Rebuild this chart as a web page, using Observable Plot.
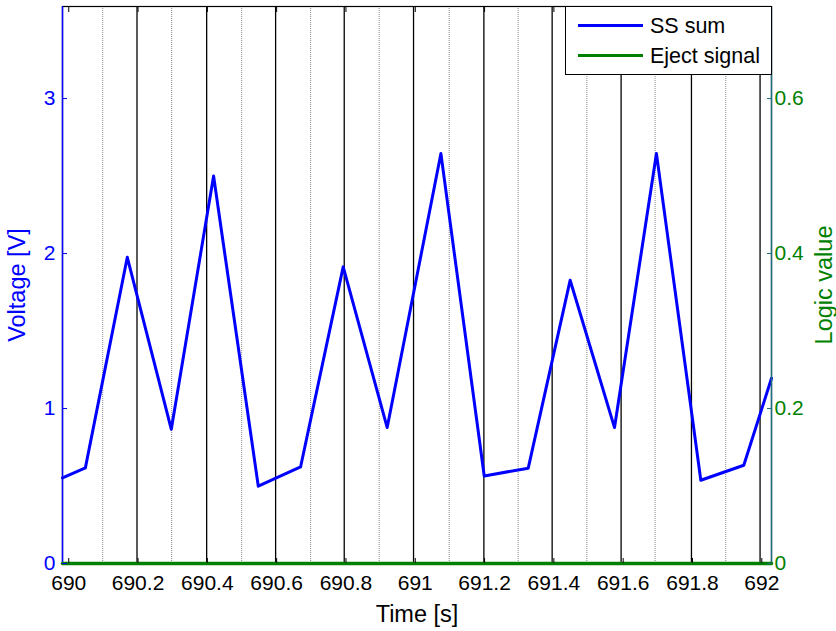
<!DOCTYPE html>
<html><head><meta charset="utf-8">
<script src="https://cdn.jsdelivr.net/npm/d3@7"></script>
<script src="https://cdn.jsdelivr.net/npm/@observablehq/plot@0.6"></script>
<style>
html,body{margin:0;padding:0;background:#fff;}
#wrap{position:relative;width:836px;height:631px;font-family:"Liberation Sans",Arial,sans-serif;}
#legend{position:absolute;left:565px;top:6px;width:207px;height:69px;border:1.5px solid #000;background:#fff;box-sizing:border-box;}
.lrow{position:absolute;left:0;height:24px;width:100%;}
.swatch{position:absolute;left:12px;top:10px;width:65px;height:3px;}
.ltext{position:absolute;left:84px;top:0;font-size:21.5px;line-height:24px;color:#000;white-space:nowrap;}
.plot-d6a7b5 text, svg text{}
</style></head><body><div id="wrap"></div>
<script>
// ---- data ----
const timeS = [689.982, 690.048, 690.169, 690.296, 690.418, 690.547, 690.669, 690.792, 690.919, 691.074, 691.199, 691.326, 691.447, 691.575, 691.696, 691.824, 691.948, 692.028];
const ssSum = [0.552, 0.617, 1.976, 0.866, 2.50, 0.499, 0.623, 1.914, 0.877, 2.645, 0.565, 0.615, 1.828, 0.877, 2.645, 0.537, 0.634, 1.195];
const ejectTimes = [689.982, 692.028];
const ejectSignal = [0, 0];
const blackMarkers = [690.197, 690.398, 690.597, 690.795, 690.995, 691.198, 691.395, 691.594, 691.797, 691.995];
const grayMarkers = [690.098, 690.297, 690.499, 690.698, 690.896, 691.098, 691.297, 691.495, 691.692, 691.896];
const xTicks = [690, 690.2, 690.4, 690.6, 690.8, 691, 691.2, 691.4, 691.6, 691.8, 692];
const xTickLabels = ["690", "690.2", "690.4", "690.6", "690.8", "691", "691.2", "691.4", "691.6", "691.8", "692"];
const leftTicks = [0, 1, 2, 3];
const leftTickLabels = ["0", "1", "2", "3"];
const rightTicks = [0, 0.2, 0.4, 0.6];
const rightTickLabels = ["0", "0.2", "0.4", "0.6"];
const seriesNames = ["SS sum", "Eject signal"];
const xDomain = [689.982, 692.028];
const yDomain = [0, 3.594];
const rightDomainMax = 0.7188;

const ratio = yDomain[1] / rightDomainMax;
const ss = timeS.map((t, i) => ({t, v: ssSum[i]}));
const ej = ejectTimes.map((t, i) => ({t, v: ejectSignal[i]}));
const BLUE = "#0000ff", GREEN = "#008000", TEAL = "#216e82";
const labelFont = {fontSize: 23.5};

const chart = Plot.plot({
  width: 836, height: 631,
  marginLeft: 62, marginRight: 65, marginTop: 6, marginBottom: 68,
  x: {domain: xDomain},
  y: {domain: yDomain},
  style: {fontFamily: '"Liberation Sans", Arial, sans-serif', fontSize: "21px", background: "#fff", color: "#000", overflow: "visible"},
  marks: [
    Plot.ruleX(grayMarkers, {stroke: "#8a8a8a", strokeWidth: 1, strokeDasharray: "1,1"}),
    Plot.ruleX(blackMarkers, {stroke: "#000", strokeWidth: 1.3}),
    Plot.line(ss, {x: "t", y: "v", stroke: BLUE, strokeWidth: 3}),
    Plot.frame({stroke: "#000", strokeWidth: 1.2}),
    Plot.ruleX([xDomain[0]], {stroke: BLUE, strokeWidth: 1.5}),
    Plot.ruleX([xDomain[1]], {stroke: TEAL, strokeWidth: 1.5}),
    Plot.line(ej, {x: "t", y: d => d.v * ratio, stroke: GREEN, strokeWidth: 3.5}),
    Plot.axisX(xTicks, {anchor: "bottom", tickSize: -5, tickPadding: 17,
      tickFormat: d => xTickLabels[xTicks.indexOf(d)], label: null, color: "#000"}),
    Plot.axisX({anchor: "bottom", ticks: [], label: "Time [s]", labelAnchor: "center", labelOffset: 58, labelArrow: "none", color: "#000", ...labelFont}),
    Plot.axisX(xTicks, {anchor: "top", tickSize: -5, tickFormat: () => "", label: null, color: "#000"}),
    Plot.axisY(leftTicks, {anchor: "left", tickSize: -5, tickPadding: 12,
      tickFormat: d => leftTickLabels[leftTicks.indexOf(d)], label: null, color: BLUE}),
    Plot.axisY({anchor: "left", ticks: [], label: "Voltage [V]", labelAnchor: "center", labelOffset: 54, labelArrow: "none", color: BLUE, ...labelFont}),
    Plot.axisY(rightTicks.map(r => r * ratio), {anchor: "right", tickSize: -5, tickPadding: 8,
      tickFormat: d => rightTickLabels[rightTicks.findIndex(r => Math.abs(r * ratio - d) < 1e-9)],
      label: null, stroke: TEAL, fill: GREEN}),
    Plot.axisY({anchor: "right", ticks: [], label: "Logic value", labelAnchor: "center", labelOffset: 60, labelArrow: "none", color: GREEN, ...labelFont})
  ]
});

const wrap = document.getElementById("wrap");
wrap.appendChild(chart);
const legend = document.createElement("div");
legend.id = "legend";
const colors = [BLUE, GREEN];
seriesNames.forEach((name, i) => {
  const row = document.createElement("div");
  row.className = "lrow";
  row.style.top = (7 + i * 30) + "px";
  const sw = document.createElement("div");
  sw.className = "swatch";
  sw.style.background = colors[i];
  const tx = document.createElement("div");
  tx.className = "ltext";
  tx.textContent = name;
  row.appendChild(sw); row.appendChild(tx);
  legend.appendChild(row);
});
wrap.appendChild(legend);
</script></body></html>
